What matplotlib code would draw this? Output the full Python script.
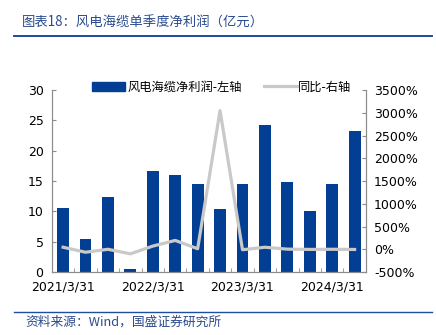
import matplotlib.pyplot as plt
import matplotlib.lines as mlines
import numpy as np

plt.rcParams['font.family'] = ['DejaVu Sans', 'Noto Sans CJK SC']

# 单季度净利润（亿元）与同比（%）
quarters = ['2021/3/31', '2021/6/30', '2021/9/30', '2021/12/31',
            '2022/3/31', '2022/6/30', '2022/9/30', '2022/12/31',
            '2023/3/31', '2023/6/30', '2023/9/30', '2023/12/31',
            '2024/3/31', '2024/6/30']
profit = [10.5, 5.4, 12.3, 0.55, 16.6, 16.0, 14.5, 10.4,
          14.5, 24.3, 14.9, 10.1, 14.5, 23.3]
yoy = [45, -65, 0, -100, 70, 195, 12, 3050,
       -10, 45, 3, -3, 0, -4]

bar_color = '#033E95'
line_color = '#C9C9C9'
axis_color = '#8C8C8C'
cjk = ['Noto Sans CJK SC', 'DejaVu Sans']

fig = plt.figure(figsize=(4.36, 3.35), dpi=100)
ax = fig.add_axes([0.119, 0.188, 0.720, 0.543])
ax2 = ax.twinx()

x = np.arange(len(quarters))
ax.bar(x, profit, width=0.53, color=bar_color, zorder=2)
ax2.plot(x, yoy, color=line_color, lw=2.3, zorder=3)

ax.set_xlim(-0.5, len(quarters) - 0.5)
ax.set_ylim(0, 30)
ax.set_yticks(range(0, 31, 5))
ax2.set_ylim(-500, 3500)
ax2.set_yticks(range(-500, 3501, 500))
ax2.set_yticklabels([f'{v}%' for v in range(-500, 3501, 500)])

ax.set_xticks(x[::4])
ax.set_xticklabels([quarters[i] for i in x[::4]])
ax.set_xticks(np.arange(-0.5, len(quarters), 1), minor=True)
ax.tick_params(axis='x', which='major', length=0, pad=6, labelsize=9)
ax.tick_params(axis='x', which='minor', direction='in', length=3, color=axis_color)
ax.tick_params(axis='y', direction='in', length=3, color=axis_color, labelsize=9, pad=6)
ax2.tick_params(axis='y', direction='in', length=3, color=axis_color, labelsize=9, pad=6)

for a in (ax, ax2):
    a.spines['top'].set_visible(False)
    for s in ('left', 'right', 'bottom'):
        a.spines[s].set_color(axis_color)
        a.spines[s].set_linewidth(0.8)
ax.set_zorder(ax2.get_zorder() - 1)
ax2.patch.set_visible(False)
ax.patch.set_visible(False)

bar_handle = plt.Rectangle((0, 0), 1, 1, color=bar_color)
line_handle = mlines.Line2D([], [], color=line_color, lw=2.3)
fig.legend([bar_handle, line_handle], ['风电海缆净利润-左轴', '同比-右轴'],
           loc='center', bbox_to_anchor=(0.509, 0.74), ncol=2, frameon=False,
           prop={'family': cjk, 'size': 8.8}, handlelength=2.7, handleheight=0.8,
           columnspacing=1.8, handletextpad=0.15)

# 标题与来源
fig.text(0.05, 0.932, '图表18：风电海缆单季度净利润（亿元）', family=cjk,
         fontsize=9.6, color='#2A4B8D', style='italic', va='center')
fig.add_artist(mlines.Line2D([0.033, 0.99], [0.892, 0.892], color='#1F4E9C', lw=1.4))
fig.add_artist(mlines.Line2D([0.033, 0.99], [0.069, 0.069], color='#1F4E9C', lw=1.0))
fig.text(0.058, 0.037, '资料来源：Wind，国盛证券研究所', family=cjk,
         fontsize=9.2, color='#2A4B8D', style='italic', va='center')

fig.savefig('out.png', dpi=100)
